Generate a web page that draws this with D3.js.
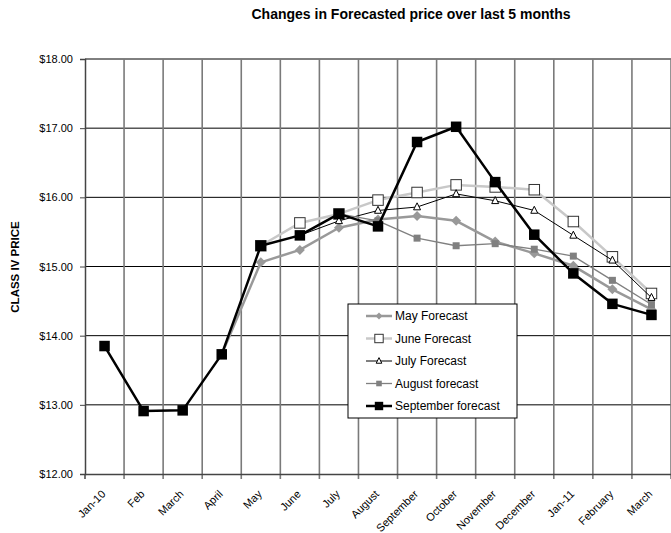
<!DOCTYPE html>
<html><head><meta charset="utf-8">
<script src="https://cdn.jsdelivr.net/npm/d3@7/dist/d3.min.js"></script>
<style>body{margin:0;background:#fff}svg{display:block;font-family:"Liberation Sans",Arial,sans-serif}</style>
</head><body><svg id="c" width="671" height="533"></svg>
<script>
const months = ["Jan-10","Feb","March","April","May","June","July","August","September","October","November","December","Jan-11","February","March"];
const yTicks = [12,13,14,15,16,17,18];
const mayForecast  = [null,null,null,13.73,15.06,15.24,15.56,15.68,15.73,15.66,15.36,15.19,15.01,14.67,14.38];
const juneForecast = [null,null,null,null,15.30,15.63,15.76,15.96,16.07,16.18,16.15,16.11,15.65,15.14,14.61];
const julyForecast = [null,null,null,null,null,15.45,15.66,15.81,15.86,16.05,15.95,15.81,15.45,15.09,14.55];
const augForecast  = [null,null,null,null,null,null,15.76,15.66,15.41,15.30,15.33,15.25,15.15,14.80,14.45];
const sepForecast  = [13.85,12.91,12.92,13.73,15.30,15.45,15.76,15.58,16.80,17.02,16.22,15.46,14.90,14.46,14.30];
const seriesNames = ["May Forecast","June Forecast","July Forecast","August forecast","September forecast"];

const styles = [
  {color:"#999999", width:2.5, marker:"diamond", size:5, fill:"#999999", mstroke:"#999999"},
  {color:"#c8c8c8", width:2.5, marker:"square", size:10.5, fill:"#ffffff", mstroke:"#333333"},
  {color:"#000000", width:1, marker:"triangle", size:7, fill:"#ffffff", mstroke:"#000000"},
  {color:"#808080", width:1.3, marker:"square", size:7, fill:"#808080", mstroke:"#808080"},
  {color:"#000000", width:2.5, marker:"square", size:10.5, fill:"#000000", mstroke:"#000000"}
];
const data = [mayForecast, juneForecast, julyForecast, augForecast, sepForecast];

const svg = d3.select("#c");
const L = 85, R = 671, T = 59, B = 474;
const x = d3.scaleBand().domain(d3.range(months.length)).range([L, R]).padding(0);
const y = d3.scaleLinear().domain([12, 18]).range([B, T]);

// title
svg.append("text").attr("x", 411).attr("y", 19).attr("text-anchor","middle")
  .attr("font-weight","bold").attr("font-size", 14).text("Changes in Forecasted price over last 5 months");

// horizontal gridlines
svg.append("g").selectAll("line").data(yTicks.slice(1)).join("line")
  .attr("x1", L).attr("x2", R).attr("y1", d=>y(d)).attr("y2", d=>y(d))
  .attr("stroke","#000").attr("stroke-width",1);
// vertical gridlines at category boundaries
const bounds = d3.range(months.length + 1).map(i => L + i * x.bandwidth());
svg.append("g").selectAll("line").data(bounds.slice(1)).join("line")
  .attr("x1", d=>d).attr("x2", d=>d).attr("y1", T).attr("y2", B + 5)
  .attr("stroke","#7a7a7a").attr("stroke-width",1.6);

// y axis
const yAxis = d3.axisLeft(y).tickValues(yTicks).tickSize(5).tickFormat(d => "$" + d.toFixed(2));
const ya = svg.append("g").attr("transform", `translate(${L},0)`).call(yAxis);
ya.select(".domain").attr("stroke","#444").attr("stroke-width",1.5);
ya.selectAll(".tick line").attr("stroke","#444");
ya.selectAll("text").attr("font-size",11).attr("fill","#000").attr("x",-12).style("font-family","'Liberation Sans',Arial,sans-serif");

// x axis
const xa = svg.append("g").attr("transform", `translate(0,${B})`)
  .call(d3.axisBottom(x).tickSize(0).tickFormat(i => months[i]));
xa.select(".domain").attr("stroke","#444").attr("stroke-width",1.5);
xa.selectAll(".tick text").attr("font-size",11).attr("fill","#000")
  .attr("text-anchor","end").attr("dy","0.35em").attr("y",0)
  .attr("transform","translate(-1,18) rotate(-45)")
  .style("font-family","'Liberation Sans',Arial,sans-serif");
svg.append("line").attr("x1",L).attr("x2",L).attr("y1",B).attr("y2",B+5).attr("stroke","#444").attr("stroke-width",1.5);

// y label
svg.append("text").attr("transform","translate(19,267) rotate(-90)").attr("text-anchor","middle")
  .attr("font-weight","bold").attr("font-size",11.5).text("CLASS IV PRICE");

function drawMarker(g, st, cx, cy) {
  if (st.marker === "square") {
    g.append("rect").attr("x", cx - st.size/2).attr("y", cy - st.size/2)
      .attr("width", st.size).attr("height", st.size)
      .attr("fill", st.fill).attr("stroke", st.mstroke).attr("stroke-width", st.fill === "#ffffff" ? 1 : 0);
  } else if (st.marker === "diamond") {
    const s = st.size;
    g.append("path").attr("d", `M${cx},${cy-s}L${cx+s},${cy}L${cx},${cy+s}L${cx-s},${cy}Z`)
      .attr("fill", st.fill);
  } else if (st.marker === "triangle") {
    const s = st.size;
    g.append("path").attr("d", `M${cx},${cy-s*0.6}L${cx+s/2},${cy+s*0.4}L${cx-s/2},${cy+s*0.4}Z`)
      .attr("fill", st.fill).attr("stroke", st.mstroke).attr("stroke-width", 1);
  }
}

const line = d3.line().defined(d => d.v !== null).x(d => x(d.i) + x.bandwidth()/2).y(d => y(d.v));
data.forEach((vals, si) => {
  const st = styles[si];
  const g = svg.append("g");
  const pts = vals.map((v, i) => ({i, v}));
  g.append("path").attr("d", line(pts)).attr("fill","none").attr("stroke", st.color)
    .attr("stroke-width", st.width).attr("stroke-linejoin","round");
  pts.filter(p => p.v !== null).forEach(p => drawMarker(g, st, x(p.i) + x.bandwidth()/2, y(p.v)));
});

// legend
const lg = svg.append("g");
lg.append("rect").attr("x",348).attr("y",304).attr("width",169).attr("height",114)
  .attr("fill","#fff").attr("stroke","#000").attr("stroke-width",1);
seriesNames.forEach((name, i) => {
  const st = styles[i];
  const cy = 316 + i * 22.5;
  lg.append("line").attr("x1",366).attr("x2",392).attr("y1",cy).attr("y2",cy)
    .attr("stroke",st.color).attr("stroke-width",st.width);
  drawMarker(lg, Object.assign({}, st, {size: st.marker === "diamond" ? 3.5 : st.size * 0.8}), 379, cy);
  lg.append("text").attr("x",395).attr("y",cy).attr("dy","0.35em").attr("font-size",12).text(name);
});
</script></body></html>
